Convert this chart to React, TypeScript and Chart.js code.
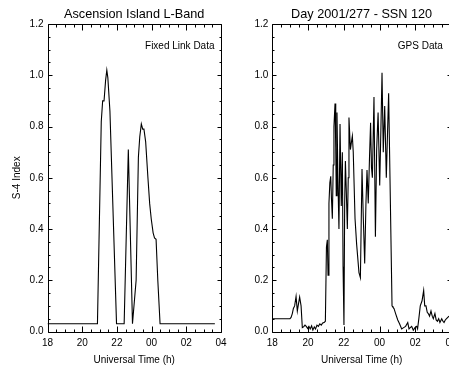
import React, { useEffect, useRef } from "react";
import { Chart, registerables } from "chart.js";

Chart.register(...registerables);

// ---- Data ----
const leftTitle = "Ascension Island L-Band";
const rightTitle = "Day 2001/277 - SSN 120";
const leftNote = "Fixed Link Data";
const rightNote = "GPS Data";
const yTitle = "S-4 Index";
const xTitle = "Universal Time (h)";

const xTickValues = [18, 20, 22, 24, 26, 28];
const xTickLabels = ["18", "20", "22", "00", "02", "04"];
const yTickValues = [0, 0.2, 0.4, 0.6, 0.8, 1.0, 1.2];

const fixedHours = [
  18.0, 20.88, 21.1, 21.18, 21.26, 21.35, 21.42, 21.48, 21.6, 21.98, 22.42,
  22.66, 22.9, 23.11, 23.24, 23.32, 23.41, 23.49, 23.56, 23.66, 23.79, 23.89,
  23.98, 24.09, 24.17, 24.26, 24.36, 24.49, 27.65,
];
const fixedS4 = [
  0.03, 0.03, 0.82, 0.9, 0.9, 0.98, 1.02, 0.99, 0.86, 0.03, 0.03, 0.71, 0.03,
  0.2, 0.68, 0.76, 0.81, 0.79, 0.79, 0.74, 0.6, 0.5, 0.44, 0.385, 0.365, 0.36,
  0.2, 0.03, 0.03,
];

const gpsHours = [
  18.0, 18.99, 19.05, 19.12, 19.18, 19.25, 19.33, 19.4, 19.47, 19.53, 19.61,
  19.68, 19.75, 19.83, 19.9, 19.98, 20.05, 20.12, 20.2, 20.27, 20.35, 20.42,
  20.5, 20.58, 20.66, 20.74, 20.82, 20.9, 20.97, 21.03, 21.08, 21.12, 21.17,
  21.22, 21.27, 21.31, 21.36, 21.41, 21.45, 21.51, 21.55, 21.58, 21.62, 21.67,
  21.73, 21.79, 21.86, 21.92, 21.96, 22.01, 22.05, 22.09, 22.14, 22.2, 22.25,
  22.29, 22.37, 22.43, 22.48, 22.53, 22.63, 22.72, 22.85, 22.93, 23.02, 23.09,
  23.17, 23.24, 23.3, 23.37, 23.44, 23.5, 23.55, 23.6, 23.69, 23.77, 23.84,
  23.92, 24.01, 24.08, 24.14, 24.21, 24.29, 24.38, 24.45, 24.51, 24.7, 24.75,
  24.81, 24.9, 25.02, 25.12, 25.24, 25.35, 25.46, 25.58, 25.65, 25.72, 25.8,
  25.89, 25.98, 26.08, 26.13, 26.2, 26.28, 26.38, 26.47, 26.53, 26.6, 26.67,
  26.73, 26.8, 26.88, 26.95, 27.01, 27.1, 27.17, 27.24, 27.31, 27.38, 27.48,
  27.55, 27.61, 27.68, 27.75, 27.89,
];
const gpsS4 = [
  0.05, 0.05, 0.055, 0.07, 0.09, 0.1, 0.137, 0.08, 0.11, 0.134, 0.1, 0.015,
  0.018, 0.025, 0.02, 0.012, 0.02, 0.01, 0.022, 0.005, 0.018, 0.01, 0.025, 0.02,
  0.03, 0.025, 0.033, 0.035, 0.04, 0.33, 0.358, 0.22, 0.5, 0.58, 0.606, 0.52,
  0.44, 0.65, 0.8, 0.89, 0.72, 0.53, 0.855, 0.6, 0.4, 0.81, 0.49, 0.7, 0.253,
  0.025, 0.5, 0.665, 0.55, 0.4, 0.6, 0.835, 0.71, 0.74, 0.763, 0.7, 0.44, 0.34,
  0.23, 0.21, 0.634, 0.45, 0.265, 0.5, 0.63, 0.5, 0.68, 0.815, 0.64, 0.6,
  0.915, 0.37, 0.71, 0.855, 0.57, 0.8, 1.01, 0.7, 0.88, 0.6, 0.78, 0.93, 0.1,
  0.095, 0.09, 0.07, 0.045, 0.03, 0.01, 0.015, 0.02, 0.035, 0.01, 0.015, 0.02,
  0.005, 0.015, 0.02, 0.01, 0.05, 0.1, 0.12, 0.16, 0.1, 0.1, 0.075, 0.07, 0.06,
  0.08, 0.06, 0.05, 0.07, 0.045, 0.04, 0.05, 0.035, 0.05, 0.04, 0.035, 0.045,
  0.05, 0.06,
];

const FONT = "'Liberation Sans', Arial, Helvetica, sans-serif";

const idlFrame = {
  id: "idlFrame",
  afterDraw(chart: any, _args: any, opts: any) {
    const { ctx, chartArea: a, scales } = chart;
    const x = scales.x;
    const y = scales.y;
    ctx.save();
    ctx.strokeStyle = "#000";
    ctx.lineWidth = 1;
    ctx.beginPath();
    const L = Math.round(a.left) + 0.5;
    const R = Math.round(a.right) + 0.5;
    const T = Math.round(a.top) + 0.5;
    const B = Math.round(a.bottom) + 0.5;
    ctx.rect(L, T, R - L, B - T);
    for (let h = x.min; h <= x.max + 1e-9; h += 0.5) {
      const px = Math.round(x.getPixelForValue(h)) + 0.5;
      const major = Math.abs(h / 2 - Math.round(h / 2)) < 1e-6;
      const len = major ? 6 : 3;
      ctx.moveTo(px, B);
      ctx.lineTo(px, B - len);
      ctx.moveTo(px, T);
      ctx.lineTo(px, T + len);
    }
    for (let i = 0; i <= 24; i++) {
      const v = i * 0.05;
      const py = Math.round(y.getPixelForValue(v)) + 0.5;
      const len = i % 4 === 0 ? 4 : 2;
      ctx.moveTo(L, py);
      ctx.lineTo(L + len, py);
      ctx.moveTo(R, py);
      ctx.lineTo(R - len, py);
    }
    ctx.stroke();
    if (opts && opts.note) {
      ctx.fillStyle = "#000";
      ctx.font = `10px ${FONT}`;
      ctx.textAlign = "right";
      ctx.textBaseline = "middle";
      ctx.fillText(opts.note, x.getPixelForValue(opts.noteX), y.getPixelForValue(opts.noteY));
    }
    ctx.restore();
  },
};

function makeConfig(
  hours: number[],
  vals: number[],
  title: string,
  note: string,
  noteX: number,
  yWidth: number,
  padRight: number,
  showYTitle: boolean
): any {
  return {
    type: "line",
    data: {
      datasets: [
        {
          data: hours.map((h, i) => ({ x: h, y: vals[i] })),
          borderColor: "#000",
          borderWidth: 1.1,
          pointRadius: 0,
          tension: 0,
          fill: false,
        },
      ],
    },
    options: {
      responsive: false,
      animation: false,
      devicePixelRatio: 1,
      layout: { padding: { left: 0, right: padRight, top: 0, bottom: 0 } },
      plugins: {
        legend: { display: false },
        tooltip: { enabled: false },
        title: {
          display: true,
          text: title,
          fullSize: false,
          color: "#000",
          font: { family: FONT, size: 12.7, weight: "normal" },
          padding: { top: 6.4, bottom: 2.4 },
        },
        idlFrame: { note, noteX, noteY: 1.115 },
      },
      scales: {
        x: {
          type: "linear",
          min: 18,
          max: 28,
          grid: { display: false, drawTicks: false },
          border: { display: false },
          afterBuildTicks: (s: any) => {
            s.ticks = xTickValues.map((v) => ({ value: v }));
          },
          afterFit: (s: any) => {
            s.height = 38.5;
          },
          ticks: {
            autoSkip: false,
            maxRotation: 0,
            color: "#000",
            padding: 5.5,
            font: { family: FONT, size: 10 },
            callback: (v: number) => {
              const i = xTickValues.indexOf(v);
              return i >= 0 ? xTickLabels[i] : "";
            },
          },
          title: {
            display: true,
            text: xTitle,
            color: "#000",
            font: { family: FONT, size: 10 },
            padding: { top: 0, bottom: 4 },
          },
        },
        y: {
          min: 0,
          max: 1.2,
          grid: { display: false, drawTicks: false },
          border: { display: false },
          afterBuildTicks: (s: any) => {
            s.ticks = yTickValues.map((v) => ({ value: v }));
          },
          afterFit: (s: any) => {
            s.width = yWidth;
          },
          ticks: {
            color: "#000",
            padding: 4,
            font: { family: FONT, size: 10 },
            callback: (v: number) => Number(v).toFixed(1),
          },
          title: {
            display: showYTitle,
            text: yTitle,
            color: "#000",
            font: { family: FONT, size: 10 },
            padding: { top: 11, bottom: 0 },
          },
        },
      },
    },
    plugins: [idlFrame],
  };
}

export default function App() {
  const leftRef = useRef<HTMLCanvasElement>(null);
  const rightRef = useRef<HTMLCanvasElement>(null);

  useEffect(() => {
    document.body.style.overflow = "hidden";
    const c1 = new Chart(
      leftRef.current as HTMLCanvasElement,
      makeConfig(fixedHours, fixedS4, leftTitle, leftNote, 27.63, 47.5, 7.5, true)
    );
    const c2 = new Chart(
      rightRef.current as HTMLCanvasElement,
      makeConfig(gpsHours, gpsS4, rightTitle, rightNote, 27.54, 40.3, 13, false)
    );
    return () => {
      c1.destroy();
      c2.destroy();
    };
  }, []);

  return (
    <div
      style={{
        position: "fixed",
        left: 0,
        top: 0,
        width: 449,
        height: 370,
        overflow: "hidden",
        background: "#fff",
      }}
    >
      <canvas
        ref={leftRef}
        width={232}
        height={370}
        style={{ position: "absolute", left: 0, top: 0, width: 232, height: 370 }}
      />
      <canvas
        ref={rightRef}
        width={232}
        height={370}
        style={{ position: "absolute", left: 232, top: 0, width: 232, height: 370 }}
      />
    </div>
  );
}
